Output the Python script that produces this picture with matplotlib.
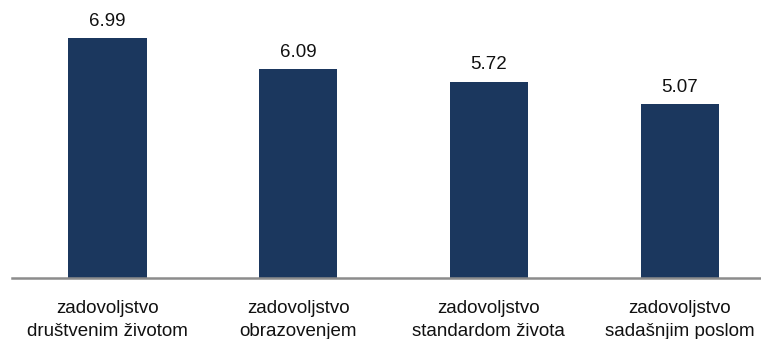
import matplotlib
matplotlib.use("Agg")
import matplotlib.pyplot as plt

categories = ["zadovoljstvo\ndruštvenim životom", "zadovoljstvo\nobrazovenjem",
              "zadovoljstvo\nstandardom života", "zadovoljstvo\nsadašnjim poslom"]
values = [6.99, 6.09, 5.72, 5.07]

plt.rcParams['font.family'] = ['Liberation Sans', 'DejaVu Sans']

fig = plt.figure(figsize=(7.61, 3.39), dpi=100)
W, H = 761, 339
left_px, right_px = 12, 761
bottom_px, top_px = 278, 3.4
ax = fig.add_axes([left_px / W, (H - bottom_px) / H, (right_px - left_px) / W, (bottom_px - top_px) / H])

x = list(range(len(categories)))
bars = ax.bar(x, values, width=0.41, color="#1B375E", zorder=2)
for xi, v in zip(x, values):
    ax.annotate(f"{v:.2f}", (xi, v), xytext=(0, 6), textcoords="offset points",
                ha="center", va="bottom", fontsize=13.5, color="#111111")

spacing = 190.7
x0 = -0.5 - (107.5 - spacing / 2 - left_px) / spacing
ax.set_xlim(x0, x0 + (right_px - left_px) / spacing)
ax.set_ylim(0, 8)
ax.set_xticks(x)
ax.set_xticklabels(categories, fontsize=13.5, color="#111111", linespacing=1.45)
ax.tick_params(axis="x", length=0, pad=16)
ax.set_yticks([])
for s in ["top", "right", "left"]:
    ax.spines[s].set_visible(False)
ax.spines["bottom"].set_color("#8c8c8c")
ax.spines["bottom"].set_linewidth(1.8)
ax.spines["bottom"].set_zorder(3)

fig.savefig("out.png", dpi=100)
